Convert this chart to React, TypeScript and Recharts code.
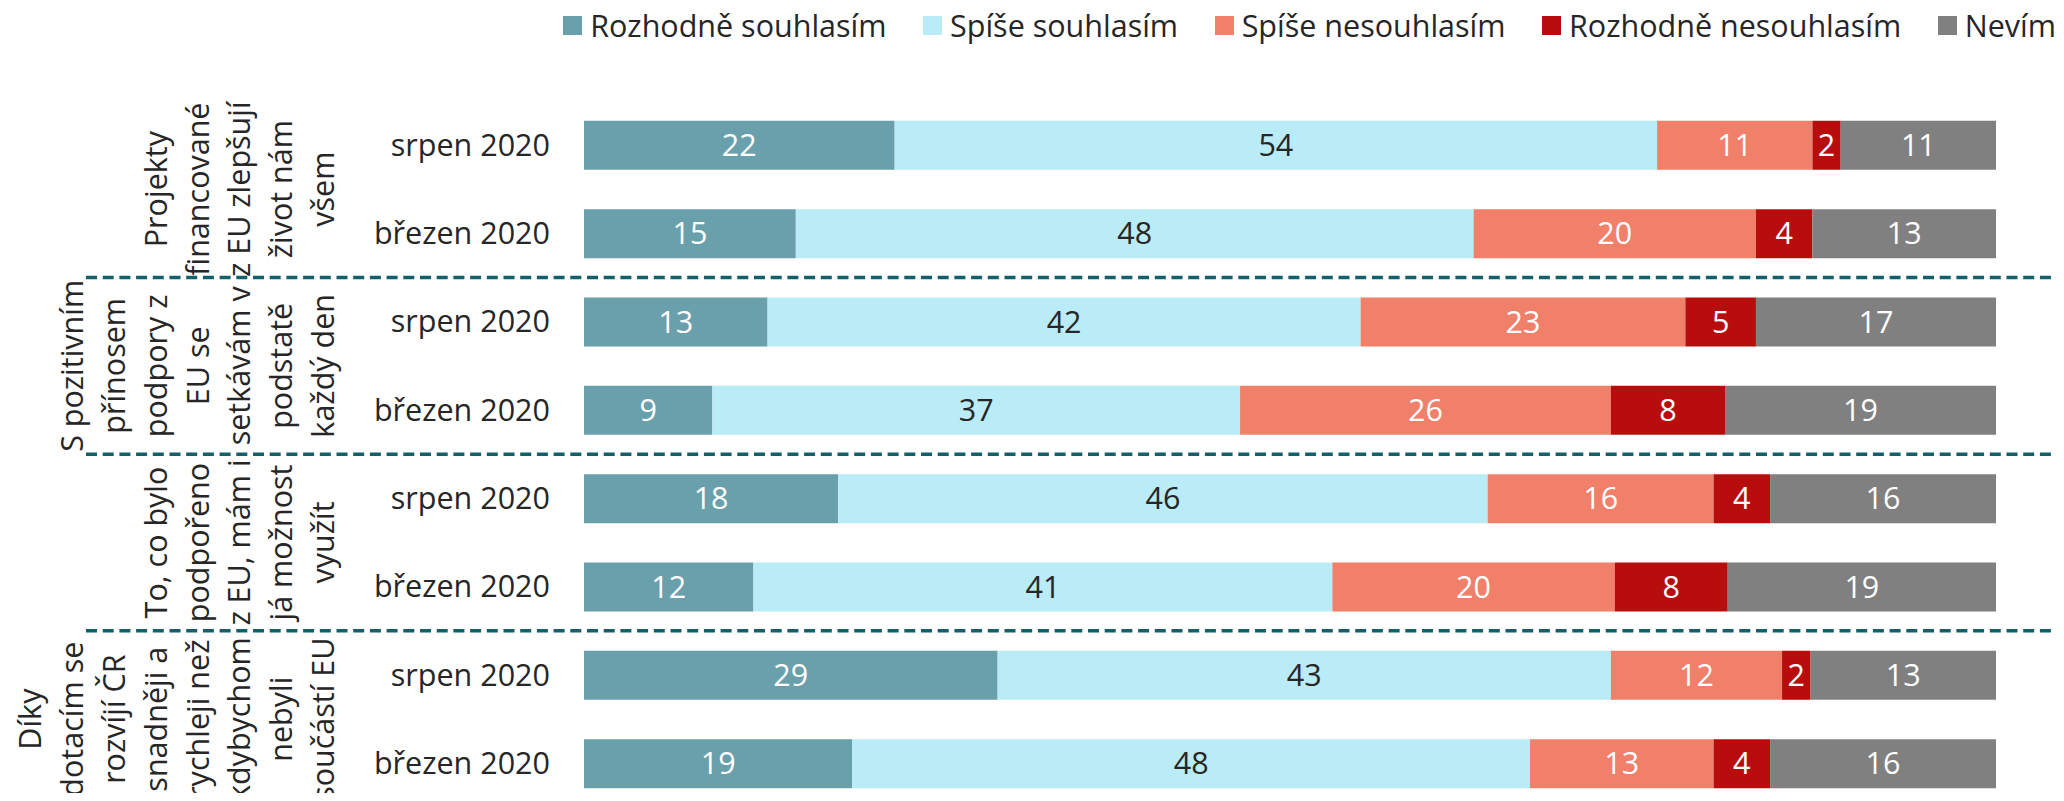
import React from "react";
import { BarChart, Bar, XAxis, YAxis, LabelList, Legend, ReferenceArea } from "recharts";

const FONT = '"Open Sans", "Noto Sans", sans-serif';
const TEXT = "#262626";
const DASH = "#135f6a";
const FS = 30.5;

const rowLabels = [
  "srpen 2020", "březen 2020",
  "srpen 2020", "březen 2020",
  "srpen 2020", "březen 2020",
  "srpen 2020", "březen 2020",
];

const groupLabels: string[][] = [
  ["Projekty", "financované", "z EU zlepšují", "život nám", "všem"],
  ["S pozitivním", "přínosem", "podpory z", "EU se", "setkávám v", "podstatě", "každý den"],
  ["To, co bylo", "podpořeno", "z EU, mám i", "já možnost", "využít"],
  ["Díky", "dotacím se", "rozvíjí ČR", "snadněji a", "rychleji než", "kdybychom", "nebyli", "součástí EU"],
];

const rozhodneSouhlasim = [22, 15, 13, 9, 18, 12, 29, 19];
const spiseSouhlasim = [54, 48, 42, 37, 46, 41, 43, 48];
const spiseNesouhlasim = [11, 20, 23, 26, 16, 20, 12, 13];
const rozhodneNesouhlasim = [2, 4, 5, 8, 4, 8, 2, 4];
const nevim = [11, 13, 17, 19, 16, 19, 13, 16];

const seriesNames = ["Rozhodně souhlasím", "Spíše souhlasím", "Spíše nesouhlasím", "Rozhodně nesouhlasím", "Nevím"];
const seriesKeys = ["rs", "ss", "sn", "rn", "nv"];
const seriesColors = ["#6a9fac", "#b9ecf6", "#f0806a", "#b80d0d", "#808080"];
const labelColors = ["#ffffff", TEXT, "#ffffff", "#ffffff", "#ffffff"];

const rowIds = rowLabels.map((_, i) => `r${i}`);

const data = rowIds.map((id, i) => ({
  id,
  label: rowLabels[i],
  rs: rozhodneSouhlasim[i],
  ss: spiseSouhlasim[i],
  sn: spiseNesouhlasim[i],
  rn: rozhodneNesouhlasim[i],
  nv: nevim[i],
}));

const renderLegend = () => (
  <div style={{ display: "flex", justifyContent: "flex-end", alignItems: "center", height: 42 }}>
    {seriesNames.map((name, i) => (
      <div key={i} style={{ display: "flex", alignItems: "center", flexShrink: 0, height: 42, marginLeft: i === 0 ? 0 : 36.5 }}>
        <span style={{ display: "inline-block", flexShrink: 0, width: 19, height: 19, background: seriesColors[i], marginRight: 8 }} />
        <span style={{ fontSize: FS, color: TEXT, lineHeight: "42px", fontFamily: FONT, whiteSpace: "nowrap", flexShrink: 0 }}>{name}</span>
      </div>
    ))}
  </div>
);

const GroupShape = (p: any) => {
  const { y, height, gi } = p;
  const lines = groupLabels[gi];
  const n = lines.length;
  const cy = y + height / 2;
  return (
    <g>
      {gi > 0 && (
        <line x1={78} x2={2048} y1={y} y2={y} stroke={DASH} strokeWidth={3.5} strokeDasharray="11 5.7" />
      )}
      {lines.map((t, i) => {
        const lx = 314 - (n - 1 - i) * 41.8;
        return (
          <text
            key={i}
            x={lx}
            y={cy}
            transform={`rotate(-90 ${lx} ${cy})`}
            textAnchor="middle"
            dominantBaseline="central"
            fontSize={FS}
            fontFamily={FONT}
            fill={TEXT}
          >
            {t}
          </text>
        );
      })}
    </g>
  );
};

export default function App() {
  return (
    <div style={{ width: 2048, height: 785, overflow: "hidden", fontFamily: FONT }}>
      <BarChart
        width={2048}
        height={805}
        data={data}
        layout="vertical"
        stackOffset="expand"
        margin={{ top: 50.8, right: 60, bottom: 5.5, left: 0 }}
        barSize={49}
      >
        <XAxis type="number" hide domain={[0, 1]} />
        <YAxis
          type="category"
          dataKey="id"
          width={576}
          axisLine={false}
          tickLine={false}
          tickSize={0}
          tickMargin={34}
          interval={0}
          tick={{ fontSize: FS, fill: TEXT, fontFamily: FONT }}
          tickFormatter={(v: string) => rowLabels[rowIds.indexOf(v)]}
        />
        <Legend verticalAlign="top" align="right" content={renderLegend} wrapperStyle={{ top: -4, right: 0, width: "auto" }} />
        {groupLabels.map((_, gi) => (
          <ReferenceArea
            key={gi}
            y1={rowIds[gi * 2]}
            y2={rowIds[gi * 2 + 1]}
            ifOverflow="visible"
            shape={(p: any) => <GroupShape {...p} gi={gi} />}
          />
        ))}
        {seriesKeys.map((k, i) => (
          <Bar key={k} dataKey={k} name={seriesNames[i]} stackId="s" fill={seriesColors[i]} isAnimationActive={false}>
            <LabelList dataKey={k} position="center" fill={labelColors[i]} fontSize={FS} fontFamily={FONT} />
          </Bar>
        ))}
      </BarChart>
    </div>
  );
}
